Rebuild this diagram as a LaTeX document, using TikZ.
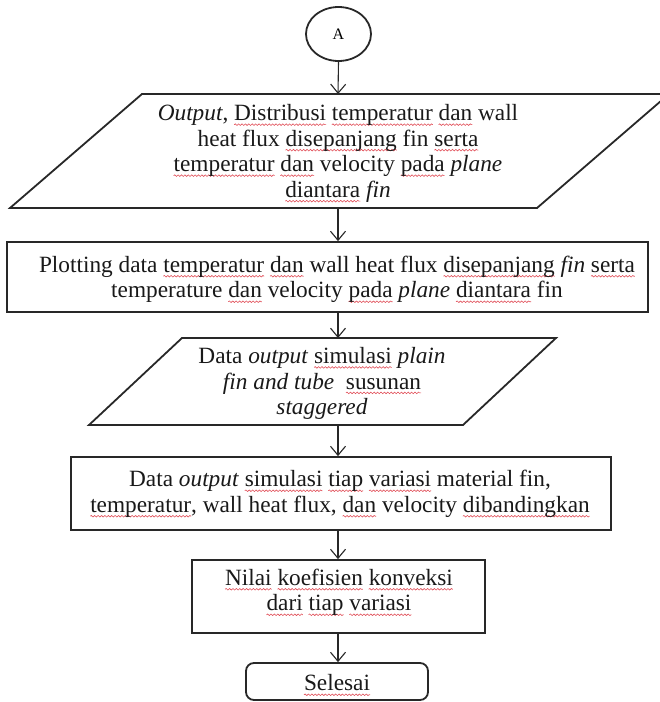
\documentclass[tikz,border=0pt]{standalone}
\usepackage{fontspec}
\setmainfont{Liberation Serif}
\usetikzlibrary{shapes.geometric,arrows.meta,decorations.pathmorphing}

\definecolor{squig}{RGB}{225,80,90}
\definecolor{ink}{RGB}{40,40,40}
% spell-check style wavy underline under a word
\newsavebox{\sqword}
\newcommand{\sq}[1]{\sbox{\sqword}{#1}%
  \rlap{\tikz[overlay,baseline=0pt]\draw[draw=squig,fill=none,sharp corners,
      line width=0.6pt,
      decorate,decoration={snake,amplitude=0.8pt,segment length=3.4pt}]
      (0pt,-3.8pt) -- (\the\wd\sqword,-3.8pt);}%
  \usebox{\sqword}}
\newcommand{\fs}{\fontsize{23.3pt}{25.5pt}\selectfont}

\begin{document}
\begin{tikzpicture}[x=1pt,y=-1pt,
  shapeline/.style={draw=ink, line width=1.8pt, line join=miter},
  box/.style={shapeline, fill=white, inner sep=0pt},
  txt/.style={align=center, font=\fs, inner sep=0pt, text=black!90},
  link/.style={draw=ink, line width=1.1pt,
    -{Straight Barb[length=9pt,width=15pt,line width=1.1pt]}},
]
\useasboundingbox (0,0) rectangle (660,702);
\clip (0,0) rectangle (660,702);

% connector
\node[shapeline, shape=ellipse, minimum width=65pt, minimum height=54pt,
  inner sep=0pt, font=\fontsize{16pt}{18pt}\selectfont] (a) at (338.5,34) {A};

% output parallelogram
\draw[shapeline] (142,94) -- (669,94) -- (537,208) -- (10,208) -- cycle;
\coordinate (p1t) at (338,94);
\coordinate (p1b) at (338,208);
\node[txt] (p1) at (338,153.5) {\textit{Output}, \sq{Distribusi} \sq{temperatur} \sq{dan} wall\\
  heat flux \sq{disepanjang} fin \sq{serta}\\
  \sq{temperatur} \sq{dan} velocity \sq{pada} \textit{plane}\\
  \sq{diantara} \textit{fin}};

% plotting step
\node[box, minimum width=641pt, minimum height=70pt] (r2) at (327.5,277) {};
\node[txt] (r2t) at (337,279.5) {Plotting data \sq{temperatur} \sq{dan} wall heat flux \sq{disepanjang} \textit{fin} \sq{serta}\\
  temperature \sq{dan} velocity \sq{pada} \textit{plane} \sq{diantara} fin};

% simulation data parallelogram
\draw[shapeline] (182,338) -- (556,338) -- (463,425) -- (89,425) -- cycle;
\coordinate (p2t) at (338,338);
\coordinate (p2b) at (338,425);
\node[txt] (p2) at (322,383.5) {Data \textit{output} \sq{simulasi} \textit{plain}\\
  \textit{fin and tube}\ \ \sq{susunan}\\
  \textit{staggered}};

% comparison step
\node[box, minimum width=540pt, minimum height=73pt] (r3) at (341,493.5) {};
\node[txt] (r3t) at (340,494) {Data \textit{output} \sq{simulasi} \sq{tiap} \sq{variasi} material fin,\\
  \sq{temperatur}, wall heat flux, \sq{dan} velocity \sq{dibandingkan}};

% result step
\node[box, minimum width=293pt, minimum height=73pt] (r4) at (338.5,596.5) {};
\node[txt] (r4t) at (339,592.5) {\sq{Nilai} \sq{koefisien} \sq{konveksi}\\
  \sq{dari} \sq{tiap} \sq{variasi}};

% terminator
\node[box, rounded corners=8pt, minimum width=182pt, minimum height=37pt] (end) at (337,681.5) {};
\node[txt] (endt) at (337,683) {\sq{Selesai}};

% flow
\draw[link] (a.south) -- (p1t);
\draw[link] (p1b) -- (p1b |- r2.north);
\draw[link] (p1b |- r2.south) -- (p2t);
\draw[link] (p2b) -- (p2b |- r3.north);
\draw[link] (p2b |- r3.south) -- (p2b |- r4.north);
\draw[link] (p2b |- r4.south) -- (p2b |- end.north);
\end{tikzpicture}
\end{document}
